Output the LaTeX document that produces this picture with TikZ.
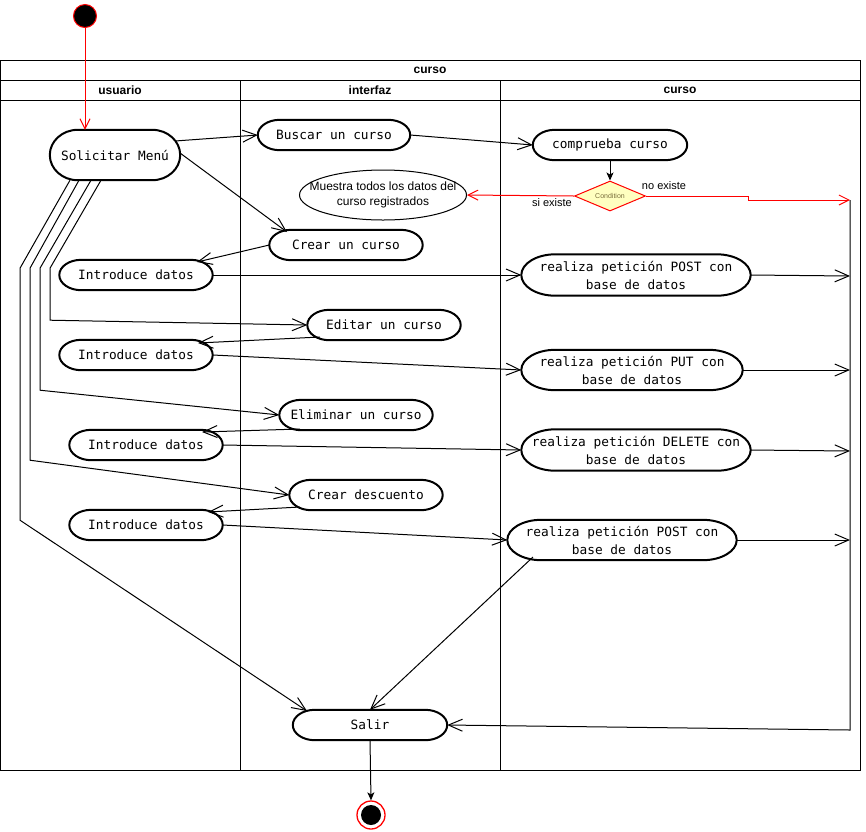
\documentclass[tikz,border=0pt]{standalone}
\usepackage{fontspec}
\setmainfont{Liberation Sans}
\newfontfamily\monof{DejaVu Sans Mono}
\usetikzlibrary{arrows.meta,shapes.misc,shapes.geometric,calc}
\definecolor{condfill}{HTML}{FFFFC0}
\definecolor{condtext}{HTML}{7A6E3C}
\tikzset{
  act/.style={rectangle, inner sep=0pt, minimum height=30pt,
    font=\monof\fontsize{12.8}{18}\selectfont, align=center},
  capline/.style={draw, line width=2pt},
  flow/.style={draw, line width=1pt, -{Straight Barb[length=14pt,width=12pt]}},
  redflow/.style={draw=red, line width=1pt, -{Straight Barb[length=10pt,width=10pt]}},
  solidflow/.style={draw, line width=1pt, -{Stealth[length=8pt,width=7pt,inset=2pt]}},
  lane/.style={draw, line width=1pt},
  hdr/.style={font=\bfseries\fontsize{12}{14}\selectfont},
  lbl/.style={font=\fontsize{11}{13}\selectfont},
}
% outline of an activity: flat top and bottom, half-elliptic ends of x-radius #2
\newcommand\actcap[2]{%
  \path[capline] let \p1=(#1.north east), \p2=(#1.south west) in
   ({\x1-#2pt},\y1) .. controls ({\x1-0.448*#2pt},\y1) and (\x1,{\y1-0.448*(\y1-\y2)/2}) .. (\x1,{(\y1+\y2)/2})
   .. controls (\x1,{\y2+0.448*(\y1-\y2)/2}) and ({\x1-0.448*#2pt},\y2) .. ({\x1-#2pt},\y2)
   -- ({\x2+#2pt},\y2) .. controls ({\x2+0.448*#2pt},\y2) and (\x2,{\y2+0.448*(\y1-\y2)/2}) .. (\x2,{(\y1+\y2)/2})
   .. controls (\x2,{\y1-0.448*(\y1-\y2)/2}) and ({\x2+0.448*#2pt},\y1) .. ({\x2+#2pt},\y1) -- cycle;}
\begin{document}
\begin{tikzpicture}[x=1pt,y=-1pt]
\useasboundingbox (0,0) rectangle (866,831);
% pool and lanes
\draw[lane] (0.5,60.5) rectangle (860.5,770.5);
\draw[lane] (0.5,80.5) -- (860.5,80.5);
\draw[lane] (0.5,100.5) -- (860.5,100.5);
\draw[lane] (240.5,80.5) -- (240.5,770.5);
\draw[lane] (500.5,80.5) -- (500.5,770.5);
\node[hdr] (ttl) at (430,70) {curso};
\node[hdr] (hu) at (120,90) {usuario};
\node[hdr] (hi) at (370,90) {interfaz};
\node[hdr] (hc) at (680,90) {curso};

% start / end
\node[circle, fill=black, draw=red, line width=1pt, minimum size=23pt, inner sep=0pt] (init) at (85,16) {};
\node[circle, draw=red, fill=white, line width=1.3pt, minimum size=28pt, inner sep=0pt] (fin) at (371,815) {};
\node[circle, fill=black, minimum size=20pt, inner sep=0pt] (finin) at (fin) {};

% activities
\node[act, minimum width=130pt, minimum height=50pt] (sol) at (115,155) {Solicitar Menú};
\node[act, minimum width=152pt] (bus) at (334,135) {Buscar un curso};
\node[act, minimum width=154pt] (comp) at (610,145) {comprueba curso};
\node[diamond, draw=red, fill=condfill, line width=1pt, minimum width=71pt, minimum height=30pt,
  inner sep=0pt, aspect=2.4, font=\fontsize{7}{8}\selectfont, text=condtext] (cond) at (610,196) {Condition};
\node[ellipse, draw, line width=1pt, minimum width=167pt, minimum height=50pt, inner sep=0pt,
  align=center, font=\fontsize{12}{15}\selectfont] (most) at (383,195)
  {\makebox[0pt]{Muestra todos los datos del}\\\makebox[0pt]{curso registrados}};
\node[lbl] (noex) at (664,186) {no existe};
\node[lbl] (siex) at (552,203) {si existe};

\node[act, minimum width=153pt] (crear) at (346,245) {Crear un curso};
\node[act, minimum width=153pt] (int1) at (136,275) {Introduce datos};
\node[act, minimum width=153pt] (edit) at (384,325) {Editar un curso};
\node[act, minimum width=153pt] (int2) at (136,355) {Introduce datos};
\node[act, minimum width=153pt] (elim) at (356,415) {Eliminar un curso};
\node[act, minimum width=153pt] (int3) at (146,445) {Introduce datos};
\node[act, minimum width=153pt] (desc) at (366,495) {Crear descuento};
\node[act, minimum width=153pt] (int4) at (146,525) {Introduce datos};
\node[act, minimum width=229pt, minimum height=41pt] (post1) at (636,275)
  {\makebox[0pt]{realiza petición POST con}\\\makebox[0pt]{base de datos}};
\node[act, minimum width=221pt, minimum height=40pt] (put) at (632,370)
  {\makebox[0pt]{realiza petición PUT con}\\\makebox[0pt]{base de datos}};
\node[act, minimum width=229pt, minimum height=41pt] (del) at (636,450)
  {\makebox[0pt]{realiza petición DELETE con}\\\makebox[0pt]{base de datos}};
\node[act, minimum width=229pt, minimum height=40pt] (post2) at (622,540)
  {\makebox[0pt]{realiza petición POST con}\\\makebox[0pt]{base de datos}};
\node[act, minimum width=154pt] (salir) at (370,725) {Salir};

% activity outlines
\actcap{sol}{28}
\actcap{bus}{22}
\actcap{comp}{22}
\actcap{crear}{22}
\actcap{int1}{22}
\actcap{edit}{22}
\actcap{int2}{22}
\actcap{elim}{22}
\actcap{int3}{22}
\actcap{desc}{22}
\actcap{int4}{22}
\actcap{post1}{34}
\actcap{put}{34}
\actcap{del}{34}
\actcap{post2}{34}
\actcap{salir}{22}

% right collector
\coordinate (vtop) at (850,200);
\coordinate (vbot) at (850,730);
\coordinate (r1) at (850,276);
\coordinate (r2) at (850,370);
\coordinate (r3) at (850,451);
\coordinate (r4) at (850,540);

% connectors
\draw[redflow] (init.south) -- ($(sol.north)+(-30,0)$);
\draw[flow] ($(sol)+(60,-14)$) -- (bus.west);
\draw[flow] ($(sol)+(65,-2)$) -- ($(crear)+(-59,-13)$);
\draw[flow] (bus.east) -- (comp.west);
\draw[solidflow] (comp.south) -- (cond.north);
\draw[redflow] (cond.west) -- (most.east);
\draw[redflow] (cond.east) -- ++(102,0) |- (vtop);
\draw[flow] (crear.west) -- ($(int1)+(61,-13)$);
\draw[flow] (int1.east) -- (post1.west);
\draw[flow] (post1.east) -- (r1);
\draw[flow] ($(sol.south)+(-14,0)$) -- ++(-51,88) -- ++(0,52) -- (edit.west);
\draw[flow] ($(sol.south)+(-24,0)$) -- ++(-51,88) -- ++(0,122) -- (elim.west);
\draw[flow] ($(sol.south)+(-36,0)$) -- ++(-49,88) -- ++(0,192) -- (desc.west);
\draw[flow] ($(sol.south)+(-45,0)$) -- ++(-50,88) -- ++(0,252) -- ($(salir)+(-63,-14)$);
\draw[flow] ($(edit)+(-64,12)$) -- ($(int2)+(62,-12)$);
\draw[flow] (int2.east) -- (put.west);
\draw[flow] (put.east) -- (r2);
\draw[flow] ($(elim)+(-56,14)$) -- ($(int3)+(56,-13)$);
\draw[flow] (int3.east) -- (del.west);
\draw[flow] (del.east) -- (r3);
\draw[flow] ($(desc)+(-66,12)$) -- ($(int4)+(62,-13)$);
\draw[flow] (int4.east) -- (post2.west);
\draw[flow] (post2.east) -- (r4);
\draw[flow] ($(post2)+(-89,17)$) -- (salir.north);
\draw[flow] (vtop) -- (vbot) -- (salir.east);
\draw[solidflow] (salir.south) -- (fin.north);
\end{tikzpicture}
\end{document}
